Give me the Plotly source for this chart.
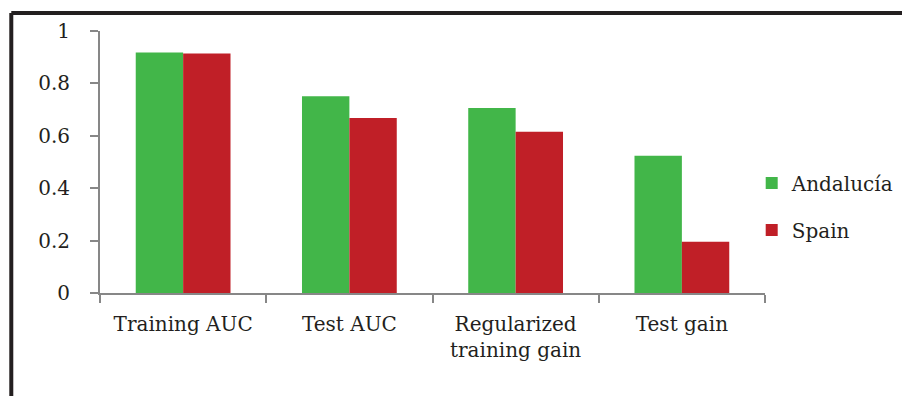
import plotly.graph_objects as go

categories = ["Training AUC", "Test AUC", "Regularized<br>training gain", "Test gain"]
andalucia = [0.918, 0.751, 0.706, 0.524]
spain = [0.914, 0.668, 0.615, 0.196]
y_ticks = [0, 0.2, 0.4, 0.6, 0.8, 1]
y_tick_labels = ["0", "0.2", "0.4", "0.6", "0.8", "1"]

GREEN = "#42b649"
RED = "#c01f27"
AXIS = "#878787"
FONT = dict(family="DejaVu Serif", size=20, color="#231f20")

fig = go.Figure()
fig.add_trace(go.Bar(x=categories, y=andalucia, name="Andalucía",
                     marker=dict(color=GREEN, line=dict(width=0)), legendgroup="a"))
fig.add_trace(go.Bar(x=categories, y=spain, name="Spain",
                     marker=dict(color=RED, line=dict(width=0)), legendgroup="b"))

fig.update_layout(
    width=902, height=396,
    margin=dict(l=100, r=137, t=31, b=103, autoexpand=False),
    paper_bgcolor="white", plot_bgcolor="white",
    font=FONT,
    barmode="group", bargap=0.43, bargroupgap=0,
    showlegend=True,
    legend=dict(x=0.98, xanchor="left", y=0.33, yanchor="middle",
                font=FONT, tracegroupgap=18, itemwidth=30,
                bgcolor="rgba(0,0,0,0)"),
    xaxis=dict(showline=True, linecolor=AXIS, linewidth=2,
               ticks="outside", tickson="boundaries", ticklen=8,
               tickwidth=2, tickcolor=AXIS, showgrid=False,
               tickangle=0, ticklabelstandoff=12),
    yaxis=dict(range=[0, 1], tickvals=y_ticks, ticktext=y_tick_labels,
               showline=True, linecolor=AXIS, linewidth=2,
               ticks="outside", ticklen=8, tickwidth=2, tickcolor=AXIS,
               showgrid=False, zeroline=False, ticklabelstandoff=16),
)

# Frame lines along the top and left edges of the figure
frame = dict(color="#231f20", width=4)
fig.add_shape(type="line", xref="paper", yref="paper",
              x0=-0.1334, x1=1.25, y0=1.069, y1=1.069, line=frame)
fig.add_shape(type="line", xref="paper", yref="paper",
              x0=-0.1334, x1=-0.1334, y0=1.069, y1=-0.45, line=frame)

fig.write_html("out.html")
